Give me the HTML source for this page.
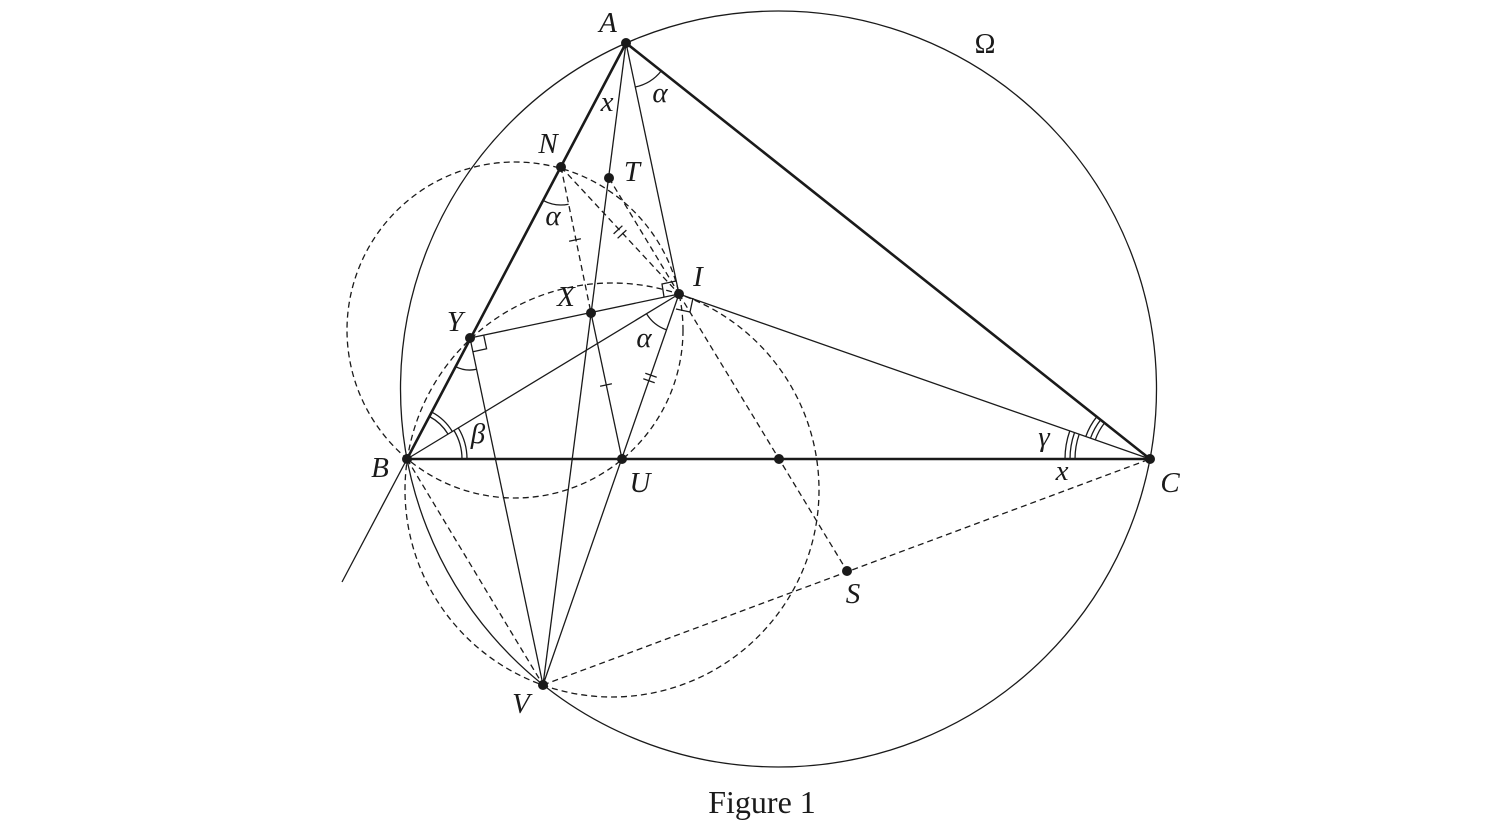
<!DOCTYPE html>
<html><head><meta charset="utf-8"><style>
html,body{margin:0;padding:0;background:#fff;}
svg{display:block;}
text{font-family:"Liberation Serif",serif;fill:#1a1a1a;}
.l{font-style:italic;font-size:29px;}
</style></head><body>
<svg width="1512" height="823" viewBox="0 0 1512 823" xmlns="http://www.w3.org/2000/svg">
<g fill="none" stroke="#1a1a1a" stroke-width="1.3">
<circle cx="778.5" cy="389" r="378"/>
<circle cx="515" cy="330" r="168" stroke-dasharray="6,4"/>
<circle cx="612" cy="490" r="207" stroke-dasharray="6,4"/>
<g stroke-dasharray="6,4">
<line x1="561" y1="167" x2="591" y2="313"/>
<line x1="561" y1="167" x2="679" y2="294"/>
<line x1="609" y1="178" x2="679" y2="294"/>
<line x1="679" y1="294" x2="847" y2="571"/>
<line x1="407" y1="459" x2="543" y2="685"/>
<line x1="543" y1="685" x2="1150" y2="459"/>
</g>
<line x1="626" y1="43" x2="679" y2="294"/>
<line x1="626" y1="43" x2="543" y2="685"/>
<line x1="679" y1="294" x2="543" y2="685"/>
<line x1="470" y1="338" x2="679" y2="294"/>
<line x1="470" y1="338" x2="543" y2="685"/>
<line x1="407" y1="459" x2="679" y2="294"/>
<line x1="679" y1="294" x2="1150" y2="459"/>
<line x1="591" y1="313" x2="622" y2="459"/>
<line x1="407" y1="459" x2="342" y2="582"/>
<g stroke-width="2.6">
<line x1="626" y1="43" x2="407" y2="459"/>
<line x1="626" y1="43" x2="1150" y2="459"/>
<line x1="407" y1="459" x2="1150" y2="459"/>
</g>
<path d="M635.3,87 A45,45 0 0 0 661.2,71"/>
<path d="M543.3,200.6 A38,38 0 0 0 568.6,204.2"/>
<path d="M646.5,313.7 A38,38 0 0 0 666.6,329.9"/>
<path d="M455.2,366.4 A32,32 0 0 0 476.6,369.3"/>
<path d="M429.4,416.5 A48,48 0 0 1 448,434.1"/>
<path d="M431.7,412.1 A53,53 0 0 1 452.3,431.5"/>
<path d="M454,430.5 A55,55 0 0 1 462,459"/>
<path d="M458.3,427.9 A60,60 0 0 1 467,459"/>
<path d="M1075,459 A75,75 0 0 1 1079.2,434.2"/>
<path d="M1070,459 A80,80 0 0 1 1074.5,432.6"/>
<path d="M1065,459 A85,85 0 0 1 1069.8,430.9"/>
<path d="M1095.3,439.8 A58,58 0 0 1 1104.6,422.9"/>
<path d="M1090.5,438.2 A63,63 0 0 1 1100.7,419.8"/>
<path d="M1085.8,436.5 A68,68 0 0 1 1096.8,416.7"/>
<polyline points="483.7,335.1 486.6,348.8 472.9,351.7"/>
<polyline points="664,297 662,284 676,281"/>
<polyline points="693,298 690,312 676,309"/>
<line x1="569.1" y1="241.2" x2="580.9" y2="238.8"/>
<line x1="600.1" y1="386.2" x2="611.9" y2="383.8"/>
<line x1="613.6" y1="233.9" x2="622.4" y2="225.7"/>
<line x1="617.6" y1="238.3" x2="626.4" y2="230.1"/>
<line x1="645.3" y1="373.2" x2="656.7" y2="377.2"/>
<line x1="643.3" y1="378.8" x2="654.7" y2="382.8"/>
</g>
<g fill="#1a1a1a">
<circle cx="626" cy="43" r="5"/>
<circle cx="407" cy="459" r="5"/>
<circle cx="1150" cy="459" r="5"/>
<circle cx="561" cy="167" r="5"/>
<circle cx="609" cy="178" r="5"/>
<circle cx="679" cy="294" r="5"/>
<circle cx="591" cy="313" r="5"/>
<circle cx="470" cy="338" r="5"/>
<circle cx="622" cy="459" r="5"/>
<circle cx="779" cy="459" r="5"/>
<circle cx="847" cy="571" r="5"/>
<circle cx="543" cy="685" r="5"/>
</g>
<g class="l" text-anchor="middle">
<text x="608" y="32">A</text>
<text x="548" y="153">N</text>
<text x="632" y="181">T</text>
<text x="607" y="111">x</text>
<text x="660" y="102">α</text>
<text x="553" y="225">α</text>
<text x="698" y="286">I</text>
<text x="566" y="306">X</text>
<text x="455" y="331">Y</text>
<text x="644" y="347">α</text>
<text x="478" y="443">β</text>
<text x="380" y="477">B</text>
<text x="640" y="492">U</text>
<text x="1044" y="446">γ</text>
<text x="1062" y="480">x</text>
<text x="1170" y="492">C</text>
<text x="853" y="603">S</text>
<text x="521" y="713">V</text>
</g>
<text x="985" y="53" text-anchor="middle" style="font-size:28px">Ω</text>
<text x="762" y="813" text-anchor="middle" style="font-size:32px">Figure 1</text>
</svg>
</body></html>
